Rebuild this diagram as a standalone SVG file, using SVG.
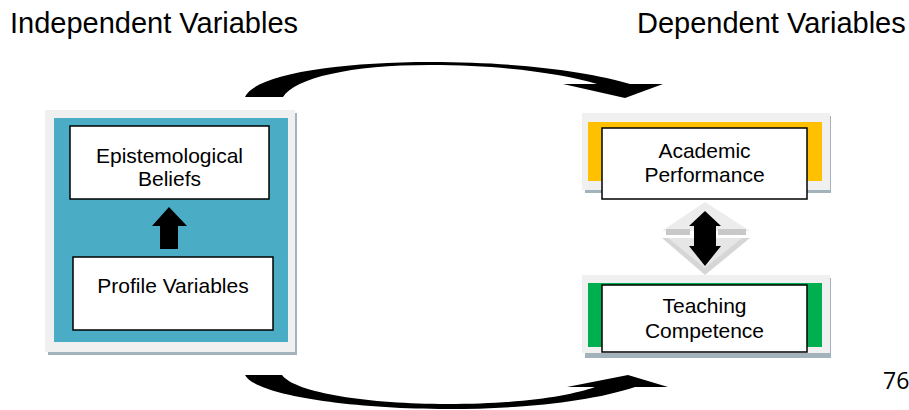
<svg xmlns="http://www.w3.org/2000/svg" width="909" height="410" viewBox="0 0 909 410">
  <defs>
    <style>
      .title { font-family: "Liberation Sans", Arial, sans-serif; font-size: 29px; fill: #000; }
      .lbl { font-family: "Liberation Sans", Arial, sans-serif; font-size: 21px; fill: #000; text-anchor: middle; }
      .box { fill: #fff; stroke: #000; stroke-width: 1.5; }
      .frame { fill: #f0f0f0; }
      .shadow { fill: #a3b3bb; }
      .blk { fill: #000; }
    </style>
    <clipPath id="tcClip"><rect x="602" y="285" width="205" height="57"/></clipPath>
  </defs>
  <rect width="909" height="410" fill="#fff"/>

  <text class="title" x="10" y="33">Independent Variables</text>
  <text class="title" x="637" y="33">Dependent Variables</text>

  <g id="independent-panel">
    <rect class="shadow" x="48" y="113" width="249" height="242"/>
    <rect class="frame" x="45" y="110" width="250" height="242"/>
    <rect x="54" y="118" width="234" height="224" fill="#4bacc6"/>
  </g>
  <g id="node-epistemological">
    <rect class="box" x="70" y="126" width="199" height="73"/>
    <text class="lbl" x="169.5" y="163">Epistemological</text>
    <text class="lbl" x="169.5" y="186">Beliefs</text>
  </g>
  <g id="node-profile">
    <rect class="box" x="73" y="257" width="200" height="73"/>
    <text class="lbl" x="173" y="293">Profile Variables</text>
  </g>

  <g id="node-academic">
    <rect class="shadow" x="585" y="116" width="246" height="77"/>
    <rect class="frame" x="582" y="113" width="248" height="77"/>
    <rect x="588" y="122" width="234" height="59" fill="#ffc000"/>
    <rect class="box" x="602" y="128" width="205" height="71"/>
    <text class="lbl" x="704.5" y="158">Academic</text>
    <text class="lbl" x="704.5" y="182">Performance</text>
  </g>
  <g id="node-teaching">
    <rect class="shadow" x="585" y="278" width="246" height="80"/>
    <rect class="frame" x="582" y="275" width="248" height="78"/>
    <rect x="588" y="283" width="234" height="64" fill="#00b050"/>
    <rect class="box" x="602" y="285" width="205" height="67"/>
    <g clip-path="url(#tcClip)">
      <text class="lbl" x="704.5" y="313">Teaching</text>
      <text class="lbl" x="704.5" y="338">Competence</text>
    </g>
  </g>

  <g id="connectors">
    <path class="blk" d="M 245,97 C 255,74 340,62 430,62 C 520,62 590,72 630,84 L 663,84 L 625,98 L 563,84 L 597,84 C 560,73 500,65 430,65 C 350,65 295,78 283,97 Z"/>
    <path class="blk" d="M 245,375 L 282,375 C 295,393 370,404 447,404 C 520,404 570,396 595,387 L 567,387 L 628,375 L 668,387 L 635,387 C 590,402 520,409 447,409 C 350,409 255,395 245,375 Z"/>
    <polygon class="blk" points="169,207 187,226 178,226 178,249 160,249 160,226 152,226"/>
    <g id="double-arrow">
      <polygon points="705,202 750,231 662,231" fill="#ececec"/>
      <rect x="666" y="229" width="24" height="6" fill="#c8c8c8"/>
      <rect x="718" y="229" width="28" height="6" fill="#c8c8c8"/>
      <polygon points="662,238 750,238 705,275" fill="#d6d6d6"/>
      <polygon points="668,238 742,238 705,268" fill="#e6e6e6"/>
      <polygon class="blk" points="705,211 721,226 716,226 716,246 721,246 705,266 689,246 694,246 694,226 689,226"/>
    </g>
  </g>

  <text x="883" y="389" font-family="'Open Sans', 'Liberation Sans', sans-serif" font-size="23" fill="#000">76</text>
</svg>
